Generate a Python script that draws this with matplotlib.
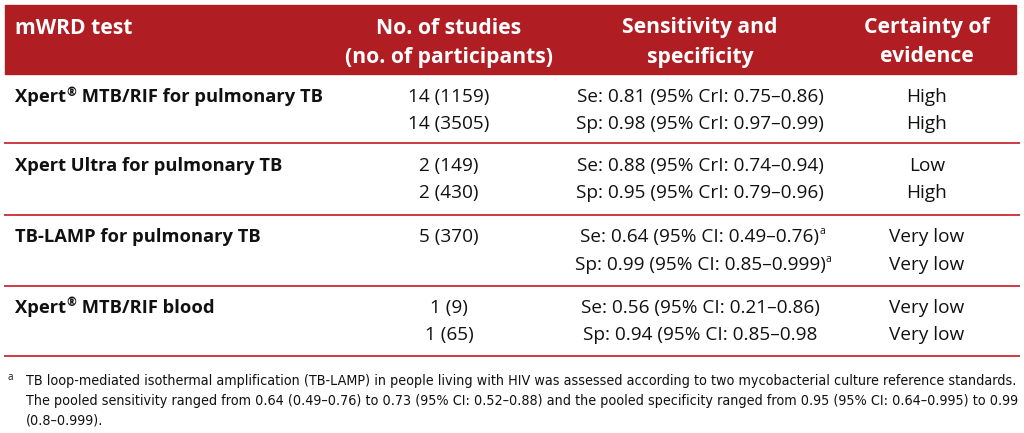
import matplotlib.pyplot as plt
from matplotlib.patches import Rectangle

# table content
headers = [["mWRD test"], ["No. of studies", "(no. of participants)"],
           ["Sensitivity and", "specificity"], ["Certainty of", "evidence"]]
tests = ["Xpert", "Xpert Ultra for pulmonary TB", "TB-LAMP for pulmonary TB", "Xpert"]
test_suffix = [" MTB/RIF for pulmonary TB", "", "", " MTB/RIF blood"]
test_reg = [True, False, False, True]
studies = [["14 (1159)", "14 (3505)"], ["2 (149)", "2 (430)"], ["5 (370)", ""], ["1 (9)", "1 (65)"]]
se_sp = [["Se: 0.81 (95% CrI: 0.75–0.86)", "Sp: 0.98 (95% CrI: 0.97–0.99)"],
         ["Se: 0.88 (95% CrI: 0.74–0.94)", "Sp: 0.95 (95% CrI: 0.79–0.96)"],
         ["Se: 0.64 (95% CI: 0.49–0.76)", "Sp: 0.99 (95% CI: 0.85–0.999)"],
         ["Se: 0.56 (95% CI: 0.21–0.86)", "Sp: 0.94 (95% CI: 0.85–0.98"]]
se_sp_note = [False, False, True, False]
certainty = [["High", "High"], ["Low", "High"], ["Very low", "Very low"], ["Very low", "Very low"]]
footnote = ["TB loop-mediated isothermal amplification (TB-LAMP) in people living with HIV was assessed according to two mycobacterial culture reference standards.",
            "The pooled sensitivity ranged from 0.64 (0.49–0.76) to 0.73 (95% CI: 0.52–0.88) and the pooled specificity ranged from 0.95 (95% CI: 0.64–0.995) to 0.99",
            "(0.8–0.999)."]

red = "#B01E24"
line_red = "#CD3B41"
txt = "#111111"
font = "Open Sans"
fs = 13.2

fig = plt.figure(figsize=(10.24, 4.33), dpi=100)
ax = fig.add_axes([0, 0, 1, 1])
ax.set_xlim(0, 1024)
ax.set_ylim(433, 0)
ax.axis("off")
renderer = fig.canvas.get_renderer()


def right_edge(t):
    bb = t.get_window_extent(renderer)
    return ax.transData.inverted().transform((bb.x1, bb.y0))[0]


def sup_after(t, s, size, dy=-5):
    # put a small superscript right after text t
    return ax.text(right_edge(t) + 0.5, t.get_position()[1] + dy, s, fontsize=size, family=font,
                   color=t.get_color(), weight=t.get_weight(), va="center", ha="left")


# header band
ax.add_patch(Rectangle((5, 5), 1011, 69, color=red, zorder=0))
col_x = [15, 449, 700, 927]
for i in range(4):
    for j, h in enumerate(headers[i]):
        ax.text(col_x[i], 28 + 29 * j, h, color="white", weight="bold", fontsize=15.2, family=font,
                va="center", ha="left" if i == 0 else "center")

row_y = [(97, 124), (166, 193), (237, 265), (308, 335)]
sep_y = [143, 215, 286, 356]

for r in range(len(tests)):
    y1, y2 = row_y[r]
    t = ax.text(col_x[0], y1, tests[r], color=txt, weight="bold", fontsize=fs, family=font, va="center")
    if test_reg[r]:
        s = sup_after(t, "®", 8.5)
        ax.text(right_edge(s) + 1, y1, test_suffix[r], color=txt, weight="bold",
                fontsize=fs, family=font, va="center")
    for k, y in enumerate((y1, y2)):
        ax.text(col_x[1], y, studies[r][k], color=txt, fontsize=13.7, family=font, va="center", ha="center")
        a = ax.text(col_x[2], y, se_sp[r][k], color=txt, fontsize=13.7, family=font, va="center", ha="center")
        if se_sp_note[r]:
            sup_after(a, "a", 7.5)
        ax.text(col_x[3], y, certainty[r][k], color=txt, fontsize=13.7, family=font, va="center", ha="center")
    ax.plot([5, 1019], [sep_y[r], sep_y[r]], color=line_red, lw=1.4)

# footnote, sized so the first line spans the table width
ax.text(8, 378, "a", fontsize=7, family=font, color=txt, va="center")
fn_fs = 10.5
probe = ax.text(26, 381, footnote[0], fontsize=fn_fs, family="DejaVu Sans", fontstretch="condensed")
w = probe.get_window_extent(renderer).width
probe.remove()
fn_fs = fn_fs * 993 / w
for i, line in enumerate(footnote):
    ax.text(26, 381 + i * 19.5, line, fontsize=fn_fs, family="DejaVu Sans", fontstretch="condensed",
            color=txt, va="center")

fig.savefig("out.png", dpi=100)
